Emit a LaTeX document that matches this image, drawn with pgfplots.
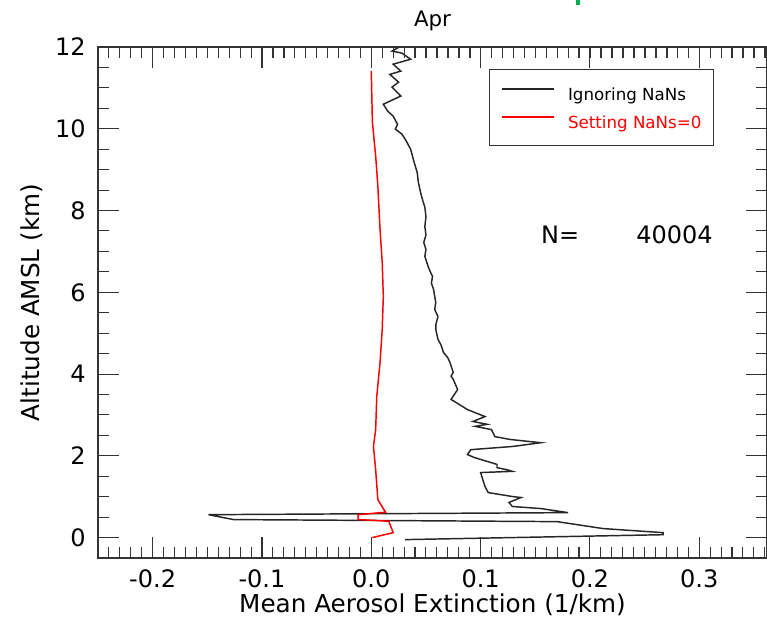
\documentclass[border=0pt]{standalone}
\usepackage{fontspec}
\setmainfont{DejaVu Sans}
\usepackage{pgfplots}
\pgfplotsset{compat=1.18}
\definecolor{grmark}{RGB}{0,176,80}
\begin{document}
\begin{tikzpicture}
\begin{axis}[
  at={(0,0)}, anchor=south west,
  scale only axis, width=501.75pt, height=383.25pt,
  xmin=-0.25, xmax=0.362, ymin=-0.5, ymax=12,
  tick align=inside,
  major tick style={black!80, line width=0.8pt},
  minor tick style={black!80, line width=0.8pt},
  axis line style={black!80, line width=0.9pt},
  xtick={-0.2,-0.1,0,0.1,0.2,0.3},
  minor xtick={-0.24,-0.23,...,0.36},
  ytick={0,2,4,6,8,10,12},
  minor ytick={-0.5,0,...,12},
  major tick length=16pt, minor tick length=8pt,
  xtick pos=both, ytick pos=both,
  /pgf/number format/assume math mode=true,
  tick label style={font=\fontsize{18}{20}\selectfont},
  xticklabel style={/pgf/number format/.cd, fixed, fixed zerofill, precision=1, /tikz/.cd, anchor=base, inner sep=0pt, yshift=-21.75pt},
  yticklabel style={anchor=east, inner sep=0pt, xshift=-9pt},
  xticklabel pos=left, yticklabel pos=left,
  xlabel={Mean Aerosol Extinction (1/km)},
  xlabel style={at={(axis description cs:0.5,-0.1057)}, anchor=base, font=\fontsize{18.5}{22}\selectfont},
  ylabel={Altitude AMSL (km)},
  ylabel style={at={(axis description cs:-0.088,0.5)}, anchor=base, font=\fontsize{18.5}{22}\selectfont},
  legend cell align=left,
  legend image code/.code={\draw[#1] (0pt,3.5pt) -- (39pt,3.5pt);},
  legend style={at={(axis description cs:0.5845,0.957)}, anchor=north west,
    draw=black!80, line width=0.8pt, inner xsep=9pt, inner ysep=12pt,
    row sep=9pt, font=\fontsize{12.5}{15}\selectfont,
    nodes={inner sep=0pt, text height=11pt, text depth=1pt},
    /tikz/column 1/.style={column sep=9.75pt}},
  clip=false,
]
\addplot[black!85, line width=1.1pt] coordinates {
(0.025,11.99) (0.019,11.90) (0.028,11.85) (0.036,11.70) (0.020,11.58)
(0.027,11.41) (0.017,11.33) (0.025,11.14) (0.019,11.02) (0.027,10.80)
(0.011,10.60) (0.015,10.43) (0.020,10.31) (0.024,10.11) (0.022,9.99)
(0.028,9.87) (0.032,9.70) (0.036,9.50) (0.039,9.20) (0.042,8.93)
(0.043,8.70) (0.045,8.45) (0.047,8.25) (0.049,8.08) (0.050,7.85)
(0.049,7.61) (0.050,7.40) (0.048,7.22) (0.050,7.05) (0.049,6.88)
(0.052,6.63) (0.054,6.50) (0.056,6.39) (0.055,6.22) (0.057,6.07)
(0.058,5.90) (0.059,5.75) (0.058,5.58) (0.061,5.41) (0.059,5.20)
(0.059,5.09) (0.061,4.85) (0.064,4.70) (0.066,4.53) (0.070,4.40)
(0.072,4.28) (0.075,4.04) (0.073,3.95) (0.075,3.87) (0.079,3.62)
(0.073,3.38) (0.088,3.13) (0.104,2.96) (0.093,2.84) (0.106,2.77)
(0.095,2.72) (0.110,2.64) (0.113,2.47) (0.127,2.40) (0.155,2.32)
(0.130,2.23) (0.091,2.15) (0.088,2.03) (0.094,1.96) (0.115,1.79)
(0.115,1.71) (0.124,1.66) (0.129,1.62) (0.100,1.59) (0.102,1.42)
(0.104,1.25) (0.107,1.10) (0.130,1.00) (0.137,0.98) (0.126,0.86)
(0.129,0.76) (0.155,0.71) (0.180,0.61) (-0.149,0.56) (-0.126,0.44)
(0.170,0.39) (0.212,0.22) (0.267,0.12) (0.267,0.07) (0.031,-0.05)
};
\addlegendentry{Ignoring NaNs}
\addplot[red, line width=1.1pt] coordinates {
(0.000,11.41) (0.001,10.16) (0.004,9.33) (0.006,8.60) (0.008,7.54)
(0.010,6.73) (0.011,5.90) (0.010,5.09) (0.008,4.28) (0.005,3.45)
(0.004,2.64) (0.002,2.23) (0.004,1.66) (0.006,0.93) (0.013,0.62)
(-0.012,0.56) (-0.012,0.44) (0.016,0.40) (0.020,0.12) (0.001,0.00)
};
\addlegendentry{\textcolor{red}{Setting NaNs=0}}
\pgfplotsinvokeforeach{-0.24,-0.23,...,0.36}{
  \draw[black!80, line width=0.8pt] (axis cs:#1,12) -- ++(0pt,-8pt);
}
\pgfplotsinvokeforeach{-0.5,0,...,12}{
  \draw[black!80, line width=0.8pt] (axis cs:0.362,#1) -- ++(-8pt,0pt);
}
\node[anchor=base, inner sep=0pt, font=\fontsize{16}{19}\selectfont] at (axis description cs:0.5,1.041) {Apr};
\node[anchor=base west, inner sep=0pt, font=\fontsize{18}{20}\selectfont] at (axis description cs:0.662,0.6164) {N=};
\node[anchor=base east, inner sep=0pt, font=\fontsize{18}{20}\selectfont] at (axis description cs:0.9193,0.6164) {40004};
\draw[grmark, line width=3pt] (axis description cs:0.7175,1.082) -- (axis description cs:0.7175,1.1);
\end{axis}
\pgfresetboundingbox
\path (-73.5pt,-45.75pt) rectangle (501.75pt,418.5pt);
\end{tikzpicture}
\end{document}
